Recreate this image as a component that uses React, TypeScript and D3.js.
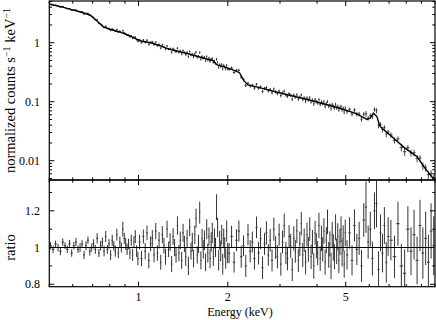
import React from 'react';
import * as d3 from 'd3';

// Folded model curve (keV, normalized counts s^-1 keV^-1)
const modelE = [0.5, 0.55, 0.59, 0.634, 0.686, 0.723, 0.759, 0.8, 0.865, 0.935, 1.01, 1.118, 1.275, 1.48, 1.7, 1.78, 1.84, 1.95, 2.1, 2.19, 2.27, 2.34, 2.5, 3.03, 3.77, 4.65, 5.4, 5.9, 6.05, 6.2, 6.37, 6.5, 6.6, 7.0, 7.9, 8.7, 9.3, 10.0];
const modelV = [4.5, 4.05, 3.68, 3.35, 2.95, 2.36, 1.87, 1.69, 1.52, 1.3, 1.08, 0.977, 0.773, 0.643, 0.53, 0.5, 0.42, 0.39, 0.34, 0.31, 0.225, 0.192, 0.178, 0.139, 0.107, 0.0804, 0.0636, 0.05, 0.053, 0.064, 0.056, 0.04, 0.036, 0.028, 0.0165, 0.0117, 0.0072, 0.0046];

// Spectral bins: centre energies (keV)
const binE = [
  0.505, 0.515, 0.525, 0.535, 0.545, 0.555, 0.565, 0.575, 0.585, 0.595,
  0.605, 0.615, 0.625, 0.635, 0.645, 0.655, 0.665, 0.675, 0.685, 0.695,
  0.705, 0.715, 0.725, 0.735, 0.745, 0.755, 0.765, 0.775, 0.785, 0.795,
  0.805, 0.815, 0.825, 0.835, 0.845, 0.855, 0.865, 0.875, 0.885, 0.895,
  0.905, 0.915, 0.925, 0.935, 0.945, 0.955, 0.965, 0.975, 0.985, 0.995,
  1.008, 1.023, 1.038, 1.053, 1.068, 1.083, 1.098, 1.113, 1.128, 1.143,
  1.158, 1.173, 1.188, 1.203, 1.218, 1.233, 1.248, 1.263, 1.278, 1.293,
  1.308, 1.323, 1.338, 1.353, 1.368, 1.383, 1.398, 1.413, 1.428, 1.443,
  1.458, 1.473, 1.488, 1.503, 1.518, 1.533, 1.548, 1.563, 1.578, 1.593,
  1.608, 1.623, 1.638, 1.653, 1.668, 1.683, 1.698, 1.713, 1.728, 1.743,
  1.758, 1.773, 1.788, 1.803, 1.818, 1.833, 1.848, 1.863, 1.878, 1.893,
  1.908, 1.923, 1.938, 1.953, 1.968, 1.983, 1.998,
  2.02, 2.06, 2.10, 2.14, 2.18, 2.22, 2.26, 2.30, 2.34, 2.38,
  2.42, 2.46, 2.50, 2.54, 2.58, 2.62, 2.66, 2.70, 2.74, 2.78,
  2.82, 2.86, 2.90, 2.94, 2.98, 3.02, 3.06, 3.10, 3.14, 3.18,
  3.22, 3.26, 3.30, 3.34, 3.38, 3.42, 3.46, 3.50, 3.54, 3.58,
  3.62, 3.66, 3.70, 3.74, 3.78, 3.82, 3.86, 3.90, 3.94, 3.98,
  4.02, 4.06, 4.10, 4.14, 4.18, 4.22, 4.26, 4.30, 4.34, 4.38,
  4.42, 4.46, 4.50, 4.54, 4.58, 4.62, 4.66, 4.70, 4.74, 4.78,
  4.82, 4.86, 4.90, 4.94, 4.98,
  5.05, 5.15, 5.25, 5.35, 5.45, 5.55, 5.65, 5.75, 5.85, 5.95,
  6.05, 6.15, 6.25, 6.35, 6.45, 6.55, 6.65, 6.75, 6.85, 6.95,
  7.1, 7.3, 7.5, 7.7, 7.9, 8.1, 8.3, 8.5, 8.7, 8.9, 9.1, 9.3, 9.5, 9.7, 9.9,
];

// Data / model ratio per bin
const ratio = [
  1.01, 0.99, 1.02, 1.00, 0.98, 1.03, 1.01, 0.99, 1.02, 0.97,
  1.01, 1.03, 0.99, 1.00, 1.02, 0.96, 1.01, 1.04, 0.98, 1.00,
  1.02, 0.99, 1.05, 0.97, 1.01, 1.03, 0.98, 1.06, 0.99, 1.02,
  0.96, 1.04, 1.01, 0.98, 1.07, 0.97, 1.03, 1.00, 1.10, 1.05,
  1.02, 0.99, 1.02, 0.97, 1.04, 0.96, 1.03, 1.06, 0.98, 0.94,
  1.03, 0.94, 1.06, 0.98, 1.08, 0.93, 1.02, 1.05, 0.96, 1.09,
  0.97, 1.04, 0.92, 1.07, 1.01, 0.95, 1.10, 0.99, 1.03, 0.91,
  1.06, 1.00, 0.96, 1.12, 0.97, 1.04, 0.93, 1.08, 1.02, 0.95,
  1.05, 0.90, 1.11, 0.98, 1.03, 0.94, 1.07, 1.16, 0.96, 1.02,
  1.19, 0.93, 1.05, 0.99, 1.04, 0.92, 1.10, 0.97, 1.06, 0.94,
  1.03, 1.08, 0.95, 1.05, 1.00, 1.22, 1.11, 0.93, 1.04, 0.98,
  1.07, 0.91, 1.05, 1.00, 0.94, 1.09, 0.97,
  0.97, 1.06, 0.92, 1.04, 1.09, 0.95, 1.01, 0.90, 1.07, 0.98,
  1.03, 0.94, 1.11, 0.97, 1.05, 0.89, 1.02, 1.08, 0.96, 1.04,
  0.93, 1.10, 1.00, 0.95, 1.07, 0.91, 1.03, 1.12, 0.97, 0.94,
  1.06, 1.01, 0.88, 1.05, 0.98, 1.09, 0.93, 1.02, 1.13, 0.96,
  1.04, 0.92, 1.07, 0.99, 1.10, 0.95, 1.03, 0.90, 1.08, 1.01,
  0.97, 1.12, 0.94, 1.05, 0.99, 1.09, 0.92, 1.04, 1.14, 0.96,
  1.02, 0.90, 1.07, 1.00, 0.95, 1.11, 0.98, 1.06, 0.93, 1.03,
  1.10, 0.97, 1.05, 0.91, 1.08,
  0.96, 1.08, 0.93, 1.12, 0.99, 1.05, 0.90, 1.15, 1.22, 1.03,
  1.10, 0.94, 1.20, 1.24, 0.88, 1.08, 0.97, 1.12, 0.92, 1.06,
  1.04, 0.95, 1.13, 0.90, 0.86, 1.10, 0.98, 1.07, 0.93, 1.12, 0.97, 1.05, 0.92, 1.09, 1.01,
];

// 1-sigma error on the ratio per bin
const ratioErr = [
  0.02, 0.02, 0.018, 0.02, 0.022, 0.02, 0.018, 0.02, 0.022, 0.02,
  0.02, 0.022, 0.02, 0.024, 0.02, 0.022, 0.025, 0.02, 0.024, 0.022,
  0.025, 0.024, 0.028, 0.022, 0.026, 0.025, 0.028, 0.03, 0.024, 0.026,
  0.028, 0.03, 0.026, 0.03, 0.032, 0.028, 0.03, 0.027, 0.04, 0.03,
  0.032, 0.03, 0.028, 0.034, 0.03, 0.033, 0.03, 0.035, 0.032, 0.036,
  0.04, 0.042, 0.038, 0.045, 0.04, 0.043, 0.041, 0.046, 0.04, 0.044,
  0.042, 0.045, 0.041, 0.047, 0.043, 0.044, 0.046, 0.042, 0.048, 0.044,
  0.045, 0.047, 0.043, 0.05, 0.045, 0.048, 0.046, 0.049, 0.044, 0.05,
  0.047, 0.05, 0.048, 0.046, 0.051, 0.048, 0.05, 0.052, 0.047, 0.05,
  0.06, 0.049, 0.052, 0.05, 0.053, 0.048, 0.054, 0.051, 0.05, 0.053,
  0.052, 0.055, 0.05, 0.054, 0.052, 0.07, 0.053, 0.056, 0.052, 0.055,
  0.054, 0.057, 0.053, 0.056, 0.055, 0.058, 0.055,
  0.055, 0.058, 0.056, 0.06, 0.057, 0.059, 0.056, 0.06, 0.058, 0.061,
  0.057, 0.06, 0.059, 0.062, 0.058, 0.061, 0.06, 0.063, 0.059, 0.062,
  0.06, 0.063, 0.061, 0.064, 0.06, 0.063, 0.062, 0.065, 0.061, 0.064,
  0.062, 0.065, 0.063, 0.066, 0.062, 0.065, 0.064, 0.067, 0.063, 0.066,
  0.064, 0.067, 0.065, 0.068, 0.064, 0.067, 0.066, 0.069, 0.065, 0.068,
  0.066, 0.069, 0.067, 0.07, 0.066, 0.069, 0.068, 0.071, 0.067, 0.07,
  0.068, 0.071, 0.069, 0.072, 0.068, 0.071, 0.07, 0.073, 0.069, 0.072,
  0.07, 0.073, 0.071, 0.074, 0.072,
  0.08, 0.085, 0.082, 0.088, 0.085, 0.09, 0.087, 0.092, 0.14, 0.09,
  0.095, 0.092, 0.1, 0.13, 0.1, 0.1, 0.105, 0.1, 0.11, 0.105,
  0.11, 0.115, 0.12, 0.12, 0.13, 0.125, 0.13, 0.135, 0.13, 0.14, 0.14, 0.145, 0.15, 0.15, 0.16,
];

const xMajorTicks = [1, 2, 5];
const xTickLabels = ['1', '2', '5'];
const upperMajorTicks = [0.01, 0.1, 1];
const upperTickLabels = ['0.01', '0.1', '1'];
const lowerMajorTicks = [0.8, 1, 1.2];
const lowerTickLabels = ['0.8', '1', '1.2'];
const lowerMinorTicks = [0.9, 1.1, 1.3];

export default function App() {
  const W = 436, H = 320;
  const L = 49.3, R = 435, T1 = 1, B1 = 180, B2 = 286.7;
  const font = "'Liberation Serif', 'Times New Roman', serif";

  const x = d3.scaleLog().domain([0.5, 10]).range([L, R]);
  const yU = d3.scaleLog().domain([0.00471, 5.09]).range([B1, T1]);
  const yL = d3.scaleLinear().domain([0.7869, 1.3678]).range([B2, B1]);

  // model evaluated in log-log space between knots (for data = model * ratio)
  const modelLog = d3.scaleLinear().domain(modelE.map(Math.log10)).range(modelV.map(Math.log10));
  const model = (e: number) => Math.pow(10, modelLog(Math.log10(e)));

  const bins = binE.map((e, i) => {
    const prev = i > 0 ? binE[i - 1] : e - (binE[1] - binE[0]);
    const next = i < binE.length - 1 ? binE[i + 1] : e + (e - binE[i - 1]);
    const lo = Math.sqrt(prev * e);
    const hi = Math.sqrt(next * e);
    return { e, lo, hi, r: ratio[i], err: ratioErr[i], m: model(e) };
  });

  const modelLine = d3.line<number>()
    .x((_, i) => x(modelE[i]))
    .y((v) => yU(v))(modelV) as string;

  const xMinor = x.ticks().filter((t) => !xMajorTicks.some((m) => Math.abs(m - t) < 1e-9));
  const uMinor = yU.ticks().filter((t) => !upperMajorTicks.some((m) => Math.abs(m - t) / m < 1e-6));

  const major = 5, minor = 2.7;
  const tickColor = '#000';
  const dataColor = '#333';

  const xTicks = (top: number, bottom: number, key: string) => (
    <g key={key}>
      {xMajorTicks.map((t) => (
        <g key={'M' + t}>
          <line x1={x(t)} x2={x(t)} y1={bottom} y2={bottom - major} stroke={tickColor} />
          <line x1={x(t)} x2={x(t)} y1={top} y2={top + major} stroke={tickColor} />
        </g>
      ))}
      {xMinor.map((t) => (
        <g key={'m' + t}>
          <line x1={x(t)} x2={x(t)} y1={bottom} y2={bottom - minor} stroke={tickColor} />
          <line x1={x(t)} x2={x(t)} y1={top} y2={top + minor} stroke={tickColor} />
        </g>
      ))}
    </g>
  );

  return (
    <svg width={W} height={H} style={{ position: 'absolute', left: 0, top: 0, background: '#fff' }} fontFamily={font}>
      <defs>
        <clipPath id="clipU"><rect x={L} y={T1} width={R - L} height={B1 - T1} /></clipPath>
        <clipPath id="clipL"><rect x={L} y={B1} width={R - L} height={B2 - B1} /></clipPath>
      </defs>
      <rect width={W} height={H} fill="#fff" />

      {/* upper panel data */}
      <g clipPath="url(#clipU)" stroke={dataColor} strokeWidth={0.9}>
        {bins.map((b, i) => (
          <g key={i}>
            <line x1={x(b.e)} x2={x(b.e)} y1={yU(b.m * (b.r - b.err))} y2={yU(b.m * (b.r + b.err))} />
            <line x1={x(b.lo)} x2={x(b.hi)} y1={yU(b.m * b.r)} y2={yU(b.m * b.r)} />
          </g>
        ))}
        <path d={modelLine} fill="none" stroke="#000" strokeWidth={1.4} />
      </g>

      {/* lower panel data */}
      <g clipPath="url(#clipL)" stroke={dataColor} strokeWidth={1}>
        {bins.map((b, i) => (
          <g key={i}>
            <line x1={x(b.e)} x2={x(b.e)} y1={yL(b.r - b.err)} y2={yL(b.r + b.err)} />
            <line x1={x(b.lo)} x2={x(b.hi)} y1={yL(b.r)} y2={yL(b.r)} />
          </g>
        ))}
      </g>
      <line x1={L} x2={R} y1={yL(1)} y2={yL(1)} stroke="#000" strokeWidth={1.1} />

      {/* frames */}
      <rect x={L} y={T1} width={R - L} height={B1 - T1} fill="none" stroke="#000" strokeWidth={1.2} />
      <rect x={L} y={B1} width={R - L} height={B2 - B1} fill="none" stroke="#000" strokeWidth={1.2} />

      {/* x ticks */}
      {xTicks(T1, B1, 'xu')}
      {xTicks(B1, B2, 'xl')}

      {/* upper y ticks */}
      {upperMajorTicks.map((t) => (
        <g key={'uM' + t}>
          <line x1={L} x2={L + major} y1={yU(t)} y2={yU(t)} stroke={tickColor} />
          <line x1={R} x2={R - major} y1={yU(t)} y2={yU(t)} stroke={tickColor} />
        </g>
      ))}
      {uMinor.map((t) => (
        <g key={'um' + t}>
          <line x1={L} x2={L + minor} y1={yU(t)} y2={yU(t)} stroke={tickColor} />
          <line x1={R} x2={R - minor} y1={yU(t)} y2={yU(t)} stroke={tickColor} />
        </g>
      ))}
      {upperMajorTicks.map((t, i) => (
        <text key={'ul' + t} x={40} y={yU(t) + 4} textAnchor="end" fontSize={12}>{upperTickLabels[i]}</text>
      ))}

      {/* lower y ticks */}
      {lowerMajorTicks.map((t) => (
        <g key={'lM' + t}>
          <line x1={L} x2={L + major} y1={yL(t)} y2={yL(t)} stroke={tickColor} />
          <line x1={R} x2={R - major} y1={yL(t)} y2={yL(t)} stroke={tickColor} />
        </g>
      ))}
      {lowerMinorTicks.map((t) => (
        <g key={'lm' + t}>
          <line x1={L} x2={L + minor} y1={yL(t)} y2={yL(t)} stroke={tickColor} />
          <line x1={R} x2={R - minor} y1={yL(t)} y2={yL(t)} stroke={tickColor} />
        </g>
      ))}
      {lowerMajorTicks.map((t, i) => (
        <text key={'ll' + t} x={40} y={yL(t) + 4} textAnchor="end" fontSize={12}>{lowerTickLabels[i]}</text>
      ))}

      {/* x tick labels */}
      {xMajorTicks.map((t, i) => (
        <text key={'xl' + t} x={x(t)} y={301} textAnchor="middle" fontSize={12}>{xTickLabels[i]}</text>
      ))}

      {/* axis titles */}
      <text x={240} y={316} textAnchor="middle" fontSize={12}>Energy (keV)</text>
      <text transform={`translate(15,${(T1 + B1) / 2}) rotate(-90)`} textAnchor="middle" fontSize={14.5}>
        normalized counts s<tspan dy={-5} fontSize={10}>−1</tspan><tspan dy={5}> keV</tspan><tspan dy={-5} fontSize={10}>−1</tspan>
      </text>
      <text transform={`translate(15,${yL(1)}) rotate(-90)`} textAnchor="middle" fontSize={14.5}>ratio</text>
    </svg>
  );
}
